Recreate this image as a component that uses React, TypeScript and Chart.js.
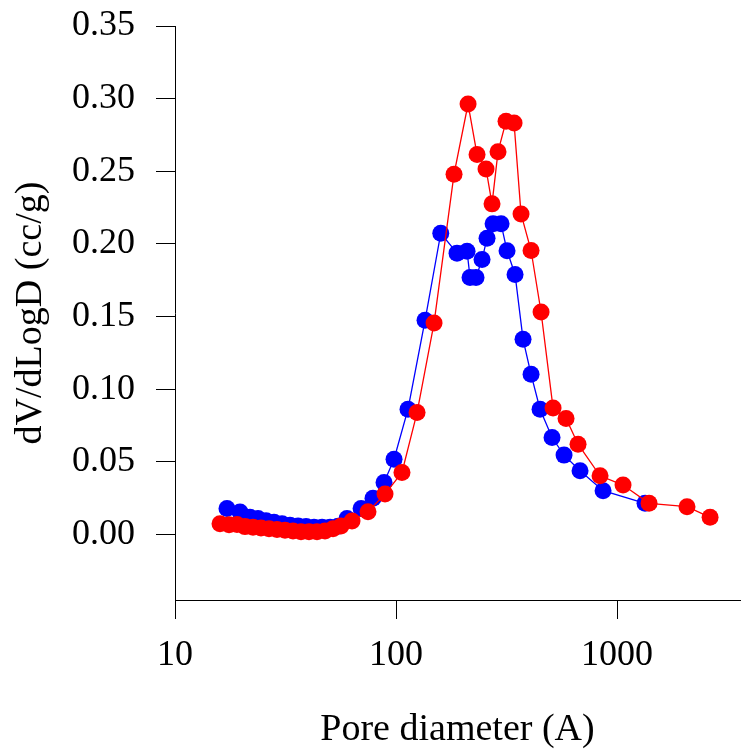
import React, { useEffect, useRef } from "react";
import { Chart, registerables } from "chart.js";

Chart.register(...registerables);

// Pore diameter (A) and dV/dLogD (cc/g)
const blueX = [17.19, 19.68, 21.84, 23.74, 25.81, 28.05, 30.49, 33.14, 36.03, 39.16, 42.56, 46.27, 50.29, 54.67, 60.02, 69.5, 78.68, 88.26, 97.95, 113.3, 135.3, 159.4, 188.8, 209.6, 216.2, 230.1, 245.0, 258.1, 274.8, 298.7, 317.9, 345.6, 375.6, 408.3, 448.4, 508.1, 575.7, 680.1, 864.5, 1338.6];
const blueY = [0.018, 0.0155, 0.012, 0.011, 0.0095, 0.0085, 0.0075, 0.0065, 0.006, 0.0055, 0.005, 0.005, 0.005, 0.0058, 0.011, 0.018, 0.025, 0.0359, 0.0519, 0.0863, 0.1475, 0.2074, 0.1937, 0.195, 0.177, 0.177, 0.1893, 0.204, 0.2139, 0.2139, 0.1953, 0.179, 0.1344, 0.1103, 0.0863, 0.0668, 0.0547, 0.0439, 0.0302, 0.0215];

const redX = [15.98, 17.56, 19.08, 20.74, 22.54, 24.5, 26.63, 28.94, 31.45, 34.19, 37.16, 40.39, 43.9, 47.71, 51.86, 56.36, 63.23, 74.68, 89.18, 106.4, 124.5, 148.6, 183.0, 211.8, 232.6, 255.4, 271.9, 289.4, 314.6, 342.0, 367.8, 408.3, 453.1, 513.4, 587.8, 666.1, 837.7, 1064.4, 1396, 2073, 2636];
const redY = [0.0075, 0.0068, 0.007, 0.0055, 0.005, 0.0045, 0.004, 0.0035, 0.003, 0.0025, 0.002, 0.002, 0.002, 0.0025, 0.004, 0.006, 0.0093, 0.0157, 0.0279, 0.0428, 0.084, 0.1456, 0.248, 0.2963, 0.2615, 0.2516, 0.2276, 0.2635, 0.2844, 0.2833, 0.2207, 0.1955, 0.1532, 0.0872, 0.0799, 0.0622, 0.0405, 0.0341, 0.0215, 0.0192, 0.0119];

const xTicks = [10, 100, 1000];
const yTicks = [0, 0.05, 0.1, 0.15, 0.2, 0.25, 0.3, 0.35];

const xTitle = "Pore diameter (A)";
const yTitle = "dV/dLogD (cc/g)";

const FONT = "'Liberation Serif', 'Times New Roman', serif";

export default function App() {
  const ref = useRef<HTMLCanvasElement | null>(null);

  useEffect(() => {
    if (!ref.current) return;
    const toPts = (xs: number[], ys: number[]) => xs.map((x, i) => ({ x, y: ys[i] }));
    const zeroPad = (s: any) => {
      s.paddingTop = 0;
      s.paddingBottom = 0;
      s.paddingLeft = 0;
      s.paddingRight = 0;
    };
    const chart = new Chart(ref.current, {
      type: "scatter",
      data: {
        datasets: [
          {
            label: "red",
            data: toPts(redX, redY),
            showLine: true,
            borderColor: "#ff0000",
            backgroundColor: "#ff0000",
            borderWidth: 1.3,
            pointRadius: 8.5,
            pointBorderWidth: 0,
            pointHoverRadius: 8.5,
          },
          {
            label: "blue",
            data: toPts(blueX, blueY),
            showLine: true,
            borderColor: "#0000ff",
            backgroundColor: "#0000ff",
            borderWidth: 1.3,
            pointRadius: 8.5,
            pointBorderWidth: 0,
            pointHoverRadius: 8.5,
          },
        ],
      },
      options: {
        responsive: false,
        animation: false,
        layout: { autoPadding: false, padding: { top: 26, right: 2, left: 0, bottom: 0 } },
        plugins: { legend: { display: false }, tooltip: { enabled: false } },
        scales: {
          x: {
            type: "logarithmic",
            min: 10,
            max: 3600,
            afterBuildTicks: (s: any) => {
              s.ticks = xTicks.map((v) => ({ value: v }));
            },
            afterFit: (s: any) => {
              s.height = 150;
              zeroPad(s);
            },
            ticks: {
              color: "#000",
              font: { family: FONT, size: 36 },
              padding: 15,
              maxRotation: 0,
              autoSkip: false,
              callback: (v: any) => String(v),
            },
            grid: {
              display: true,
              drawOnChartArea: false,
              drawTicks: true,
              tickLength: 19,
              color: "#000",
              lineWidth: 1,
            },
            border: { display: true, color: "#000", width: 1 },
            title: {
              display: true,
              text: xTitle,
              color: "#000",
              font: { family: FONT, size: 38 },
              padding: { top: 0, bottom: -3 },
            },
          },
          y: {
            type: "linear",
            min: -0.045,
            max: 0.35,
            afterBuildTicks: (s: any) => {
              s.ticks = yTicks.map((v) => ({ value: v }));
            },
            afterFit: (s: any) => {
              s.width = 175;
              zeroPad(s);
            },
            ticks: {
              color: "#000",
              font: { family: FONT, size: 36 },
              padding: 21,
              autoSkip: false,
              callback: (v: any) => Number(v).toFixed(2),
            },
            grid: {
              display: true,
              drawOnChartArea: false,
              drawTicks: true,
              tickLength: 19,
              color: "#000",
              lineWidth: 1,
            },
            border: { display: true, color: "#000", width: 1 },
            title: {
              display: true,
              text: yTitle,
              color: "#000",
              font: { family: FONT, size: 38 },
              padding: { top: 8, bottom: 0 },
            },
          },
        },
      },
    });
    return () => chart.destroy();
  }, []);

  return (
    <div style={{ position: "fixed", left: 0, top: 0, width: 742, height: 750, background: "#fff" }}>
      <canvas ref={ref} width={742} height={750} style={{ width: 742, height: 750, display: "block" }} />
    </div>
  );
}
